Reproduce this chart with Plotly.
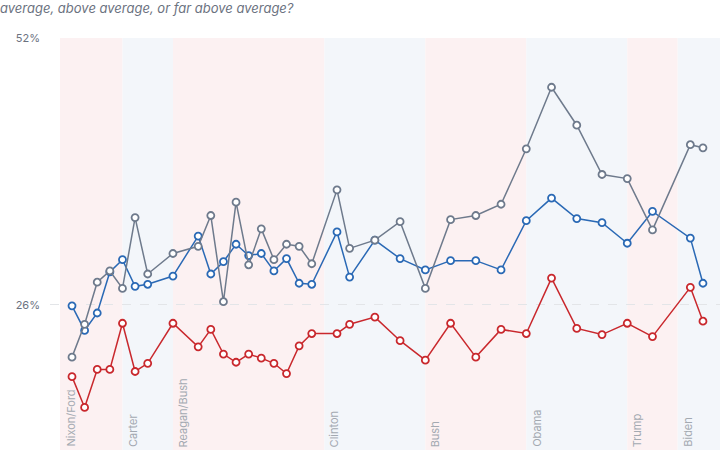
import plotly.graph_objects as go

years = [1972, 1973, 1974, 1975, 1976, 1977, 1978, 1980, 1982, 1983, 1984, 1985,
         1986, 1987, 1988, 1989, 1990, 1991, 1993, 1994, 1996, 1998, 2000, 2002,
         2004, 2006, 2008, 2010, 2012, 2014, 2016, 2018, 2021, 2022]

all_resp = [20.9, 24.1, 28.2, 29.3, 27.6, 34.5, 29.0, 31.0, 31.7, 34.7, 26.3, 36.0,
            29.9, 33.4, 30.4, 31.9, 31.7, 30.0, 37.2, 31.5, 32.3, 34.1, 27.6, 34.3,
            34.7, 35.8, 41.2, 47.2, 43.5, 38.7, 38.3, 33.3, 41.6, 41.3]

democrats = [25.9, 23.5, 25.2, 29.2, 30.4, 27.8, 28.0, 28.8, 32.7, 29.0, 30.2, 31.9,
             30.8, 31.0, 29.3, 30.5, 28.1, 28.0, 33.1, 28.7, 32.3, 30.5, 29.4, 30.3,
             30.3, 29.4, 34.2, 36.4, 34.4, 34.0, 32.0, 35.1, 32.5, 28.1]

republicans = [19.0, 16.0, 19.7, 19.7, 24.2, 19.5, 20.3, 24.2, 21.9, 23.6, 21.2, 20.4,
               21.2, 20.8, 20.3, 19.3, 22.0, 23.2, 23.2, 24.1, 24.8, 22.5, 20.6, 24.2,
               20.9, 23.6, 23.2, 28.6, 23.7, 23.1, 24.2, 22.9, 27.7, 24.4]

presidents = ["Nixon/Ford", "Carter", "Reagan/Bush", "Clinton", "Bush", "Obama", "Trump", "Biden"]
term_start = [1971.05, 1976, 1980, 1992, 2000, 2008, 2016, 2020]
term_end = [1976, 1980, 1992, 2000, 2008, 2016, 2020, 2023.4]
party = ["R", "D", "R", "D", "R", "D", "R", "D"]

y_ticks = [26, 52]
y_tick_text = ["26%", "52%"]

subtitle = "average, above average, or far above average?"

band_color = {"R": "#fcf1f2", "D": "#f3f6fa"}

fig = go.Figure()

shapes = []
annotations = []
for name, s, e, p in zip(presidents, term_start, term_end, party):
    shapes.append(dict(type="rect", xref="x", yref="paper", x0=s, x1=e, y0=0, y1=1,
                       fillcolor=band_color[p], line=dict(width=0), layer="below"))
    annotations.append(dict(x=s, y=0, xref="x", yref="paper", text=name,
                            textangle=-90, showarrow=False, xanchor="left",
                            yanchor="bottom", xshift=1, yshift=1,
                            font=dict(family="Inter", size=11, color="#a3a9b1")))

series = [
    ("Republicans", republicans, "#c9282d"),
    ("Democrats", democrats, "#2a69b5"),
    ("All", all_resp, "#6e7a8c"),
]
for name, vals, col in series:
    fig.add_trace(go.Scatter(
        x=years, y=vals, name=name, mode="lines+markers",
        line=dict(color=col, width=1.5),
        marker=dict(size=7, color="white", line=dict(color=col, width=1.8)),
        showlegend=False, cliponaxis=False,
    ))

fig.update_layout(
    width=720, height=450,
    margin=dict(l=50, r=0, t=38, b=0),
    paper_bgcolor="white", plot_bgcolor="white",
    font=dict(family="Inter", color="#6b7280"),
    title=dict(text="<i>" + subtitle + "</i>", x=0, xanchor="left", xref="container",
               y=1 - 8.5 / 450, yanchor="middle", yref="container",
               pad=dict(t=0, l=0, b=0, r=0),
               font=dict(family="Inter", size=13, color="#6b7280")),
    shapes=shapes,
    annotations=annotations,
    xaxis=dict(range=[1970.257, 2023.35], showgrid=False, zeroline=False,
               showticklabels=False, showline=False, ticks=""),
    yaxis=dict(range=[11.85, 52], tickvals=y_ticks, ticktext=y_tick_text,
               showgrid=True, gridcolor="#e3e5e8", griddash="dash", gridwidth=1,
               zeroline=False, showline=False, ticks="", ticklabelstandoff=9,
               tickfont=dict(family="Inter", size=11, color="#6b7280")),
)

fig.write_html("out.html")
